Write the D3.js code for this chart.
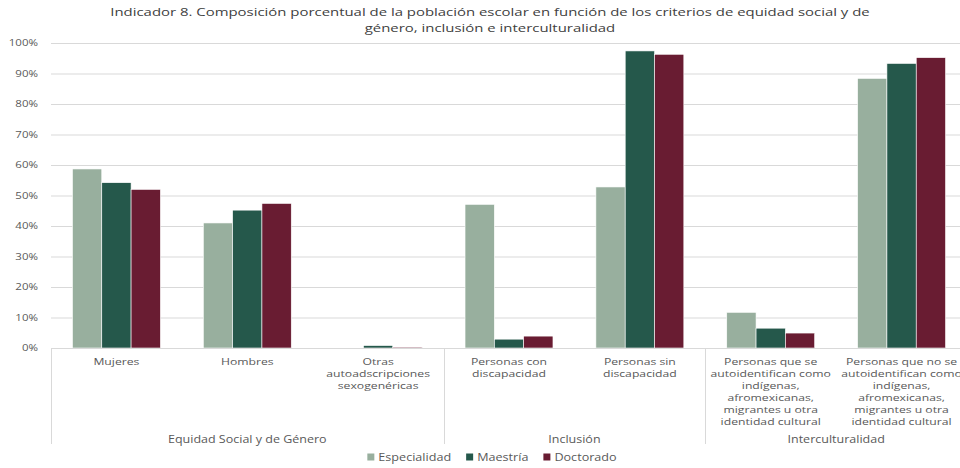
<!DOCTYPE html>
<html><head><meta charset="utf-8">
<script src="https://cdn.jsdelivr.net/npm/d3@7/dist/d3.min.js"></script>
<style>body{margin:0;background:#fff;overflow:hidden}svg{display:block}text{font-family:"Open Sans",sans-serif}</style>
</head><body><svg id="c" width="960" height="468"></svg>
<script>
const categories = [
  ["Mujeres"],
  ["Hombres"],
  ["Otras","autoadscripciones","sexogenéricas"],
  ["Personas con","discapacidad"],
  ["Personas sin","discapacidad"],
  ["Personas que se","autoidentifican como","indígenas,","afromexicanas,","migrantes u otra","identidad cultural"],
  ["Personas que no se","autoidentifican como","indígenas,","afromexicanas,","migrantes u otra","identidad cultural"]
];
const groups = [
  {name:"Equidad Social y de Género", from:0, to:2},
  {name:"Inclusión", from:3, to:4},
  {name:"Interculturalidad", from:5, to:6}
];
const seriesNames = ["Especialidad","Maestría","Doctorado"];
const especialidad = [58.7, 41.0, 0.0, 47.1, 52.8, 11.7, 88.4];
const maestria     = [54.2, 45.2, 0.8, 2.9, 97.4, 6.5, 93.3];
const doctorado    = [52.0, 47.4, 0.3, 3.9, 96.3, 4.9, 95.2];
const yTicks = [0,10,20,30,40,50,60,70,80,90,100];
const colors = ["#98af9e","#25584b","#691c32"];
const titleLines = ["Indicador 8. Composición porcentual de la población escolar en función de los criterios de equidad social y de","género, inclusión e interculturalidad"];

const series = [especialidad, maestria, doctorado];
const svg = d3.select("#c");
const L = 51, R = 967, T = 43, B = 348;
const idx = categories.map((d,i)=>i);
const x0 = d3.scaleBand().domain(idx).range([L,R]).paddingInner(0.328).paddingOuter(0.164);
const x1 = d3.scaleBand().domain([0,1,2]).range([0,x0.bandwidth()]);
const y = d3.scaleLinear().domain([0,100]).range([B,T]);
const step = x0.step();

function stretch(sel, f){
  sel.each(function(){
    const w = this.getComputedTextLength();
    d3.select(this).attr("textLength", w*f).attr("lengthAdjust","spacingAndGlyphs");
  });
}

// title
svg.append("g").selectAll("text").data(titleLines).join("text")
  .attr("x",490).attr("y",(d,i)=>16+i*16).attr("text-anchor","middle")
  .attr("font-size",11.3).attr("fill","#404040").text(d=>d).call(stretch,1.32);

// grid
const yAxis = d3.axisLeft(y).tickValues(yTicks).tickFormat(d=>d+"%").tickSize(-(R-L)).tickPadding(12);
const gy = svg.append("g").attr("transform",`translate(${L},0)`).call(yAxis);
gy.select(".domain").remove();
gy.selectAll(".tick line").attr("stroke","#d9d9d9").attr("stroke-width",1);
gy.selectAll(".tick text").attr("fill","#595959").attr("font-size",9).attr("x",-13).call(stretch,1.28);

// bars
svg.append("g").selectAll("g").data(series).join("g").attr("fill",(d,i)=>colors[i])
  .each(function(vals,si){
    d3.select(this).selectAll("rect").data(vals).join("rect")
      .attr("x",(v,ci)=>x0(ci)+x1(si)).attr("width",x1.bandwidth())
      .attr("y",v=>y(v)).attr("height",v=>B-y(v))
      .attr("stroke","#ffffff").attr("stroke-width",0.6);
  });

// category axis
const ax = svg.append("g");
ax.append("line").attr("x1",L).attr("x2",R).attr("y1",B+0.5).attr("y2",B+0.5).attr("stroke","#d9d9d9");
const bounds = [L, L+3*step, L+5*step, R];
ax.selectAll("line.sep").data(bounds).join("line").attr("class","sep")
  .attr("x1",d=>Math.round(d)+0.5).attr("x2",d=>Math.round(d)+0.5).attr("y1",B).attr("y2",444).attr("stroke","#d9d9d9");

const lines = [];
categories.forEach((c,i)=>c.forEach((t,j)=>lines.push({t,i,j})));
ax.selectAll("text.cat").data(lines).join("text").attr("class","cat")
  .attr("text-anchor","middle").attr("font-size",8.8).attr("fill","#595959")
  .attr("x",d=>x0(d.i)+x0.bandwidth()/2).attr("y",d=>365+d.j*12).text(d=>d.t)
  .call(stretch,1.386);

ax.selectAll("text.grp").data(groups).join("text").attr("class","grp")
  .attr("x",g=>(x0(g.from)+x0(g.to)+x0.bandwidth())/2).attr("y",443)
  .attr("text-anchor","middle").attr("font-size",10).attr("fill","#595959").text(g=>g.name)
  .call(stretch,1.25);

// legend
const lg = svg.append("g");
const items = lg.selectAll("g").data(seriesNames).join("g");
items.append("rect").attr("width",7).attr("height",7).attr("y",453.5).attr("fill",(d,i)=>colors[i]);
items.append("text").attr("x",11).attr("y",461).attr("font-size",10).attr("fill","#595959").text(d=>d).call(stretch,1.26);
let cx = 0; const pos=[];
items.each(function(){ pos.push(cx); cx += 11 + d3.select(this).select("text").attr("textLength")*1 + 15; });
const total = cx-15; const start = 492 - total/2;
items.attr("transform",(d,i)=>`translate(${start+pos[i]},0)`);
</script></body></html>
